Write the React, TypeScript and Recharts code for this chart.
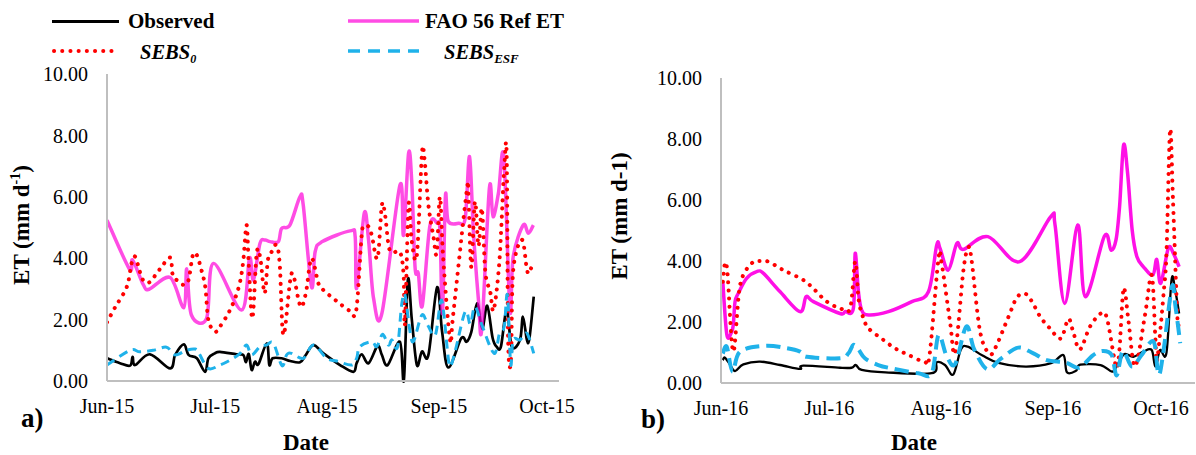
import React from 'react';
import { LineChart, Line, XAxis, YAxis } from 'recharts';

type Pt = [number, number];

// x = days since 1 June, y = ET (mm/day)
const monthTicks = [0, 30, 61, 92, 122];
const labels2015 = ['Jun-15', 'Jul-15', 'Aug-15', 'Sep-15', 'Oct-15'];
const labels2016 = ['Jun-16', 'Jul-16', 'Aug-16', 'Sep-16', 'Oct-16'];
const yTicks = [0, 2, 4, 6, 8, 10];

const observed2015: Pt[] = [
  [0, 0.74], [3.6, 0.58], [6.4, 0.5], [7.1, 0.79], [7.8, 0.52], [11.9, 0.87], [17.5, 0.41], [18.9, 0.85],
  [21.3, 1.19], [22.6, 0.85], [24.9, 0.74], [27.2, 0.3], [28.1, 0.74], [29.9, 0.9], [31.3, 0.95], [35.9, 0.87],
  [37.8, 0.85], [38.5, 0.61], [39.3, 0.88], [40.1, 0.36], [41, 0.63], [42, 0.55], [44.3, 1.23], [45, 0.52],
  [45.9, 0.74], [48.4, 0.74], [50.8, 0.65], [53.5, 0.61], [55, 0.83], [57.2, 1.17], [60, 0.9], [64.6, 0.52],
  [68.3, 0.3], [69.2, 0.58], [70.6, 0.87], [72.5, 0.58], [75, 1.14], [76.2, 0.85], [77.8, 0.52], [81.2, 1.28],
  [82.3, 0.03], [83.4, 3.29], [84.5, 2.0], [85.9, 0.52], [87.3, 0.96], [89.1, 0.85], [91.5, 3.05], [92.9, 1.6],
  [94.6, 0.44], [98.2, 1.39], [99.7, 1.28], [101, 1.6], [102.6, 2.53], [104, 1.7], [105.4, 2.45], [106.9, 1.4],
  [108, 1.12], [109.2, 1.12], [110.8, 2.31], [112.2, 1.12], [114.5, 1.34], [115.3, 2.1], [116.4, 1.34],
  [117.1, 1.39], [118.3, 2.75],
];

const fao2015: Pt[] = [
  [0, 5.24], [6.2, 3.65], [7.1, 3.94], [10.1, 3.13], [11.7, 2.99], [17.5, 3.37], [21.3, 2.39], [22.1, 3.65],
  [23.4, 2.15], [27.6, 2.04], [29.5, 3.83], [37.3, 2.31], [39.5, 4.0], [40.6, 3.29], [42.4, 4.48], [43.8, 4.59],
  [45.2, 4.54], [47.5, 4.54], [48.4, 4.97], [50.7, 5.08], [53.5, 6.0], [54.4, 5.73], [56.7, 3.07], [57.7, 4.21],
  [59.7, 4.54], [67.4, 4.89], [68.8, 4.7], [69.2, 3.02], [71.3, 5.46], [72.5, 4.6], [73.9, 2.69], [76.2, 2.2],
  [81.2, 6.38], [82.2, 4.75], [83.6, 7.42], [84.5, 6.45], [85.4, 3.7], [86.3, 3.5], [87.4, 2.45], [89.5, 5.05],
  [91.5, 5.14], [92.3, 4.9], [93.0, 2.2], [93.8, 6.0], [94.6, 5.2], [97.5, 5.14], [99.3, 5.3], [100.5, 7.31],
  [101.6, 4.81], [103, 2.6], [103.9, 1.7], [106, 6.28], [107, 5.35], [108.5, 6.11], [110, 7.31], [111.7, 2.3],
  [112.6, 4.05], [115.4, 5.08], [116.8, 4.81], [118.2, 5.08],
];

const sebs0_2015: Pt[] = [
  [0, 1.91], [2.2, 2.39], [5.5, 3.07], [6.8, 3.83], [7.8, 4.05], [9.1, 3.56], [10, 3.29], [11.7, 3.21],
  [14.7, 3.65], [17.5, 4.02], [18.2, 3.47], [19.5, 3.27], [21.3, 3.13], [22.6, 3.29], [23.8, 4.1], [24.9, 4.1],
  [26.3, 3.56], [27.3, 3.02], [28.1, 1.99], [29.9, 1.61], [31.3, 1.77], [33.6, 2.2], [35.5, 2.69], [36.9, 3.24],
  [37.8, 3.94], [38.7, 5.08], [39.3, 3.78], [40.3, 2.04], [41.5, 4.16], [42.5, 4.0], [43.7, 2.86], [44.6, 3.94],
  [45.6, 4.2], [47, 4.43], [47.9, 3.78], [48.9, 1.5], [50.8, 3.29], [51.7, 3.43], [53.1, 2.64], [54, 2.42],
  [55.2, 2.91], [56.7, 4.0], [58.6, 3.18], [60, 2.96], [63.7, 2.6], [67.4, 2.28], [69.1, 2.31], [70.6, 4.75],
  [71.3, 5.03], [72.5, 5.03], [73.4, 4.75], [75, 4.0], [76.2, 5.73], [77.1, 5.4], [78.1, 4.38], [79.2, 4.18],
  [81.2, 4.2], [82.2, 3.5], [82.6, 1.85], [83.6, 5.73], [84.5, 4.54], [85.9, 4.1], [87.3, 7.4], [88, 7.25],
  [89.1, 5.73], [90.5, 4.7], [91.4, 4.16], [92.3, 6.0], [93.2, 4.0], [95.1, 1.34], [96, 2.2], [99.7, 6.17],
  [100.2, 6.0], [101, 3.7], [102, 5.84], [103, 4.4], [103.9, 5.62], [104.8, 3.67], [105.5, 3.18], [106.3, 2.86],
  [107.2, 2.31], [108.8, 3.94], [110.1, 6.9], [110.8, 7.35], [111.2, 1.34], [112, 0.7], [112.6, 3.6],
  [115, 4.6], [116.3, 3.72], [116.9, 3.5], [118, 3.83],
];

const sebsEsf2015: Pt[] = [
  [0, 0.52], [6.4, 1.0], [9.1, 0.95], [12.8, 1.0], [16.5, 1.1], [18.9, 0.85], [22, 1.0], [24.4, 1.04],
  [25.5, 0.9], [28.1, 0.41], [31.3, 0.52], [34.1, 0.68], [36.9, 0.9], [38.7, 1.17], [40.1, 0.85], [42.4, 1.12],
  [44.2, 1.17], [46.1, 1.23], [48.5, 0.5], [49.8, 0.85], [51.2, 0.9], [54.4, 0.74], [57.2, 1.17], [60.9, 0.74],
  [63.7, 0.65], [67.8, 0.52], [69.2, 0.74], [70.1, 1.12], [73.4, 1.28], [74.8, 1.12], [76.4, 1.52], [78, 1.17],
  [79, 1.34], [80.5, 1.1], [81.7, 2.5], [82.6, 2.8], [84, 1.61], [85, 1.3], [87.3, 2.15], [89, 1.8], [91, 1.5],
  [92.5, 2.6], [93.3, 2.26], [94.4, 0.96], [95.1, 0.47], [96.5, 0.96], [99.3, 2.26], [100.7, 1.85], [102, 2.42],
  [104, 1.8], [107.3, 0.9], [108.8, 1.55], [110.1, 1.77], [111, 2.8], [111.9, 0.55], [112.6, 1.34],
  [114.5, 1.34], [116.4, 1.55], [118.3, 0.9],
];

const observed2016: Pt[] = [
  [0.5, 0.75], [1.1, 0.83], [2.5, 0.6], [3.9, 0.39], [6.2, 0.61], [10.8, 0.7], [16.4, 0.59], [21.9, 0.46],
  [22.8, 0.57], [33, 0.5], [36.2, 0.5], [37.4, 0.59], [39, 0.43], [45.6, 0.35], [58.4, 0.32], [59.8, 0.68],
  [62.1, 0.59], [64.4, 0.28], [66.5, 1.1], [68.4, 1.19], [72.5, 0.9], [76.9, 0.66], [84.5, 0.54], [91.5, 0.65],
  [94.9, 0.92], [95.9, 0.35], [98.4, 0.4], [99.6, 0.6], [105.2, 0.59], [108.4, 0.37], [109.7, 0.55],
  [111.8, 0.95], [114.3, 0.86], [117.1, 1.03], [119.4, 1.08], [120.4, 0.54], [121.7, 1.08], [123.5, 1.0],
  [124.9, 3.38], [125.9, 3.05], [127, 2.28],
];

const fao2016: Pt[] = [
  [0.5, 3.32], [1.6, 1.6], [2.8, 1.63], [3.4, 1.9], [3.9, 2.67], [4.8, 2.94], [7.1, 3.43], [9.9, 3.65],
  [11.7, 3.6], [16.4, 2.99], [21.9, 2.34], [23.6, 2.83], [25.6, 2.67], [33, 2.28], [34.4, 2.34], [36.7, 2.45],
  [37.2, 4.25], [38.1, 2.99], [39, 2.39], [40.9, 2.23], [46.4, 2.34], [52.9, 2.67], [57.5, 2.99], [59.8, 4.52],
  [60.7, 4.42], [63, 3.7], [65.4, 4.58], [67.2, 4.38], [74, 4.8], [82.8, 3.98], [91.4, 5.45], [92.6, 5.18],
  [95.3, 2.61], [98.9, 5.18], [101, 2.83], [106.3, 4.82], [108.1, 4.36], [109.5, 4.69], [110.5, 5.8],
  [111.6, 7.8], [112.7, 6.9], [114, 5.0], [115.3, 4.14], [117.1, 3.81], [119.7, 3.54], [120.8, 4.05],
  [121.9, 3.27], [124, 4.42], [125.4, 4.25], [127, 3.81],
];

const sebs0_2016: Pt[] = [
  [0.5, 3.32], [1.1, 3.92], [1.8, 3.6], [3.4, 1.03], [5.3, 3.21], [8.5, 3.92], [10.8, 4.0], [13.1, 3.98],
  [17.3, 3.7], [22.8, 3.38], [26, 3.05], [29.3, 2.67], [33, 2.45], [35.8, 2.45], [37.2, 3.98], [38.2, 2.7],
  [39.5, 2.12], [40.9, 1.79], [44.5, 1.46], [48.2, 1.14], [52, 0.92], [56.4, 0.7], [57.8, 0.9], [60.3, 4.09],
  [61.2, 3.9], [63.5, 2.0], [64.9, 1.0], [67.2, 3.7], [68.6, 4.45], [69.5, 4.0], [71.8, 1.7], [74.3, 0.97],
  [76, 1.14], [79.7, 2.17], [82, 2.8], [84.3, 2.93], [86.3, 2.65], [88.5, 2.17], [91.2, 1.79], [94.2, 1.46],
  [96.3, 2.1], [97.7, 1.65], [99.5, 1.1], [102.3, 1.85], [105.3, 2.28], [107, 2.12], [109.5, 0.55],
  [110.4, 1.03], [111.4, 2.9], [112, 3.0], [113, 2.0], [114.8, 0.55], [117.5, 2.2], [119.4, 3.54],
  [120.4, 1.5], [120.9, 0.75], [122.7, 2.94], [123.5, 4.3], [124.5, 8.3], [125.3, 6.0], [126.5, 2.2],
  [127, 2.07],
];

const sebsEsf2016: Pt[] = [
  [0.5, 0.97], [1.6, 1.19], [3.2, 0.37], [5.3, 1.03], [12.2, 1.22], [18.2, 1.14], [21.9, 1.03], [23.8, 0.86],
  [33, 0.81], [35.3, 0.97], [36.7, 1.25], [38.1, 1.1], [39.9, 0.81], [43.6, 0.59], [47.3, 0.48], [54.7, 0.32],
  [58.4, 0.32], [60.3, 1.57], [62.5, 0.9], [64.9, 0.62], [68, 1.85], [70.2, 1.1], [73.8, 0.45], [77.6, 0.8],
  [82.4, 1.16], [86.6, 0.97], [90.3, 0.75], [95.6, 0.67], [99.3, 0.5], [103, 0.9], [105.8, 1.05], [108.3, 0.92],
  [109.7, 0.25], [111.4, 1.05], [113.9, 0.54], [116.5, 0.9], [119.9, 1.36], [121.3, 0.27], [122.7, 1.08],
  [125, 3.16], [126, 2.5], [127.3, 1.3],
];

const toRows = (pts: Pt[]) => pts.map(([d, v]) => ({ d, v }));

// Excel-like smoothed line (Catmull-Rom through the points)
const excelSmooth = (context: any) => {
  let pts: number[][] = [];
  return {
    areaStart() {},
    areaEnd() {},
    lineStart() {
      pts = [];
    },
    lineEnd() {
      const n = pts.length;
      if (!n) return;
      context.moveTo(pts[0][0], pts[0][1]);
      for (let i = 0; i < n - 1; i++) {
        const p0 = pts[Math.max(i - 1, 0)];
        const p1 = pts[i];
        const p2 = pts[i + 1];
        const p3 = pts[Math.min(i + 2, n - 1)];
        context.bezierCurveTo(
          p1[0] + (p2[0] - p0[0]) / 6,
          p1[1] + (p2[1] - p0[1]) / 6,
          p2[0] - (p3[0] - p1[0]) / 6,
          p2[1] - (p3[1] - p1[1]) / 6,
          p2[0],
          p2[1]
        );
      }
    },
    point(x: number, y: number) {
      pts.push([+x, +y]);
    },
  };
};

const FONT = 'Liberation Serif';
const AXIS_GRAY = '#BFBFBF';

const makeXTick = (labels: string[]) => (props: any) => {
  const { x, y, payload } = props;
  const idx = monthTicks.indexOf(payload.value);
  return (
    <text x={x} y={y} dy="0.71em" textAnchor="middle" fontFamily={FONT} fontSize={20} fill="#000">
      {labels[idx] ?? ''}
    </text>
  );
};

const YTick = (props: any) => {
  const { x, y, payload } = props;
  return (
    <text x={x} y={y} dy="0.355em" textAnchor="end" fontFamily={FONT} fontSize={20} fill="#000">
      {Number(payload.value).toFixed(2)}
    </text>
  );
};

type PanelProps = {
  width: number;
  margin: { top: number; right: number; bottom: number; left: number };
  xMax: number;
  labels: string[];
  observed: Pt[];
  fao: Pt[];
  sebs0: Pt[];
  sebsEsf: Pt[];
  faoColor: string;
  faoOpacity: number;
  obsWidth: number;
  esfDash: string;
  esfWidth: number;
};

function Panel(p: PanelProps) {
  return (
    <LineChart width={p.width} height={455} margin={p.margin}>
      <XAxis
        dataKey="d"
        type="number"
        domain={[0, p.xMax]}
        ticks={monthTicks}
        interval={0}
        allowDataOverflow
        axisLine={{ stroke: AXIS_GRAY, strokeWidth: 2 }}
        tickLine={false}
        tickSize={0}
        tickMargin={18}
        height={30}
        tick={makeXTick(p.labels)}
      />
      <YAxis
        type="number"
        domain={[0, 10]}
        ticks={yTicks}
        interval={0}
        axisLine={{ stroke: AXIS_GRAY, strokeWidth: 2 }}
        tickLine={false}
        tickSize={0}
        tickMargin={19}
        width={60}
        tick={YTick}
      />
      <Line
        data={toRows(p.observed)}
        dataKey="v"
        type={excelSmooth as any}
        stroke="#000000"
        strokeWidth={p.obsWidth}
        dot={false}
        activeDot={false}
        isAnimationActive={false}
      />
      <Line
        data={toRows(p.fao)}
        dataKey="v"
        type={excelSmooth as any}
        stroke={p.faoColor}
        strokeOpacity={p.faoOpacity}
        strokeWidth={3.5}
        dot={false}
        activeDot={false}
        isAnimationActive={false}
      />
      <Line
        data={toRows(p.sebs0)}
        dataKey="v"
        type={excelSmooth as any}
        stroke="#FF0000"
        strokeWidth={4}
        strokeDasharray="0.1 8"
        strokeLinecap="round"
        dot={false}
        activeDot={false}
        isAnimationActive={false}
      />
      <Line
        data={toRows(p.sebsEsf)}
        dataKey="v"
        type={excelSmooth as any}
        stroke="#1FB2EA"
        strokeWidth={p.esfWidth}
        strokeDasharray={p.esfDash}
        dot={false}
        activeDot={false}
        isAnimationActive={false}
      />
    </LineChart>
  );
}

export default function App() {
  const bold = { fontFamily: FONT, fontWeight: 700, fill: '#000' } as const;
  return (
    <div style={{ position: 'absolute', left: 0, top: 0, width: 1196, height: 455, background: '#fff', overflow: 'hidden', fontFamily: FONT }}>
      <div style={{ position: 'absolute', left: 0, top: 0 }}>
        <Panel
          width={600}
          margin={{ top: 74, right: 41, bottom: 44, left: 47 }}
          xMax={125.3}
          labels={labels2015}
          observed={observed2015}
          fao={fao2015}
          sebs0={sebs0_2015}
          sebsEsf={sebsEsf2015}
          faoColor="#FF00D8"
          faoOpacity={0.7}
          obsWidth={2.7}
          esfDash="9 6"
          esfWidth={3}
        />
      </div>
      <div style={{ position: 'absolute', left: 600, top: 0 }}>
        <Panel
          width={596}
          margin={{ top: 78, right: 1, bottom: 42, left: 61 }}
          xMax={131.4}
          labels={labels2016}
          observed={observed2016}
          fao={fao2016}
          sebs0={sebs0_2016}
          sebsEsf={sebsEsf2016}
          faoColor="#FF10E6"
          faoOpacity={1}
          obsWidth={2.3}
          esfDash="14 7"
          esfWidth={4}
        />
      </div>
      <svg
        width={1196}
        height={455}
        style={{ position: 'absolute', left: 0, top: 0, pointerEvents: 'none' }}
      >
        {/* legend */}
        <line x1={52} y1={21.5} x2={119} y2={21.5} stroke="#000" strokeWidth={3} />
        <text x={128} y={28} fontSize={21} {...bold}>Observed</text>
        <line x1={348} y1={21} x2={419} y2={21} stroke="#FF00D8" strokeOpacity={0.7} strokeWidth={3.5} />
        <text x={425} y={28} fontSize={21} {...bold}>FAO 56 Ref ET</text>
        <line x1={54} y1={51} x2={119} y2={51} stroke="#FF0000" strokeWidth={4} strokeDasharray="0.1 8.1" strokeLinecap="round" />
        <text x={140} y={59} fontSize={20.5} fontStyle="italic" {...bold}>
          SEBS<tspan fontSize={12} dy={4}>0</tspan>
        </text>
        <line x1={348} y1={51} x2={419} y2={51} stroke="#1FB2EA" strokeWidth={3.5} strokeDasharray="12 8" />
        <text x={444} y={59} fontSize={20.5} fontStyle="italic" {...bold}>
          SEBS<tspan fontSize={13} dy={4}>ESF</tspan>
        </text>

        {/* axis titles */}
        <text x={29} y={225} fontSize={23} textAnchor="middle" transform="rotate(-90 29 225)" {...bold}>
          ET (mm d<tspan fontSize={14} dy={-9}>-1</tspan><tspan dy={9}>)</tspan>
        </text>
        <text x={627} y={216} fontSize={23} textAnchor="middle" transform="rotate(-90 627 216)" {...bold}>
          ET (mm d-1)
        </text>
        <text x={306} y={450} fontSize={23} textAnchor="middle" {...bold}>Date</text>
        <text x={914} y={450} fontSize={23} textAnchor="middle" {...bold}>Date</text>

        {/* panel letters */}
        <text x={21} y={427} fontSize={27} {...bold}>a)</text>
        <text x={641} y={428} fontSize={27} {...bold}>b)</text>
      </svg>
    </div>
  );
}
